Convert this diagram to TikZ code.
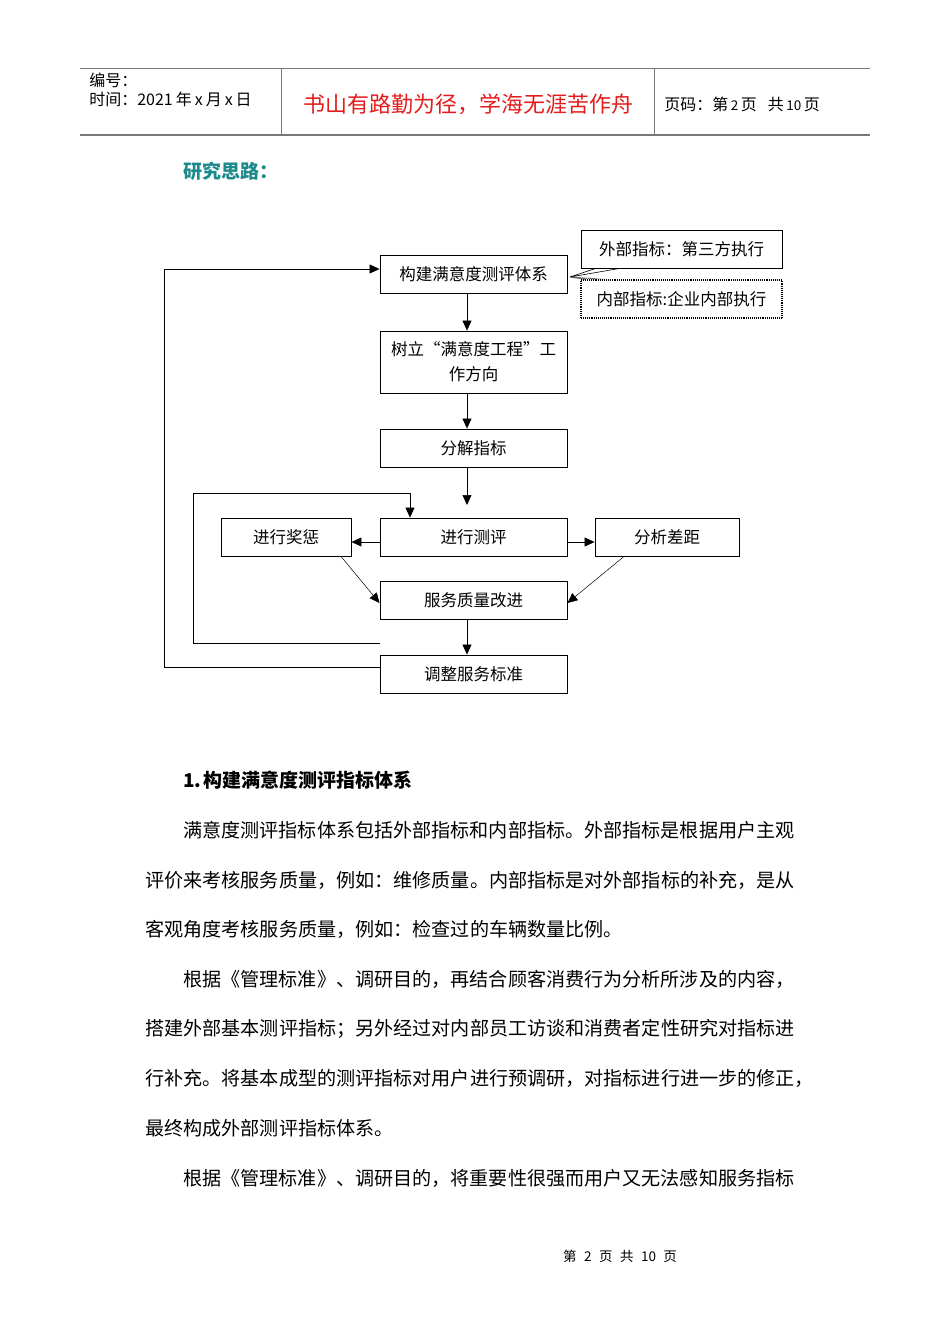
\documentclass[tikz,border=0pt]{standalone}
\usepackage{fontspec}
\setmainfont{Noto Sans CJK SC}
\usetikzlibrary{arrows.meta}

\definecolor{titleteal}{RGB}{28,138,140}
\definecolor{mottored}{RGB}{228,28,28}
\definecolor{rulegray}{RGB}{120,120,120}

\begin{document}
\begin{tikzpicture}[
            x = 1pt, y = -1pt, % page pixels, y down
            > = {Triangle[length=10pt,width=9pt]}, % arrow head style
            semithick, % line style
            box/.style = {draw, line width=0.9pt, minimum width=187pt, minimum height=38pt,
                          inner sep=0pt, align=center, font=\fontsize{16.5pt}{25pt}\selectfont},
            note/.style = {box, minimum width=201pt},
            head/.style = {anchor=west, inner sep=0pt, font=\fontsize{16pt}{18pt}\selectfont},
            body/.style = {anchor=west, inner sep=0pt, font=\fontsize{19.1pt}{22pt}\selectfont},
            thin link/.style = {->, line width=0.5pt}
        ]

	\useasboundingbox (0,0) rectangle (950,1344);

	% header table
	\draw[rulegray, line width=0.8pt] (80,68) -- (870,68);
	\draw[rulegray, line width=2pt] (80,135) -- (870,135);
	\draw[rulegray, line width=0.8pt] (281,68) -- (281,135) (654,68) -- (654,135);
	\node[head] (num) at (89,80) {编号：};
	\node[head] (date) at (89,99) {时间：2021\hspace{3pt}年\hspace{3pt}x\hspace{3pt}月\hspace{3pt}x\hspace{3pt}日};
	\node[inner sep=0pt, text=mottored, font=\fontsize{22pt}{24pt}\selectfont] (motto) at (468,104) {书山有路勤为径，学海无涯苦作舟};
	\node[head] (page) at (664,104) {页码：第\hspace{2.5pt}{\fontsize{13.5pt}{14pt}\selectfont 2}\hspace{2.5pt}页\hspace{11pt}共\hspace{2.5pt}{\fontsize{13.5pt}{14pt}\selectfont 10}\hspace{2.5pt}页};

	\node[anchor=west, inner sep=0pt, text=titleteal, font=\fontsize{19pt}{20pt}\selectfont\bfseries] (idea) at (183,171) {研究思路：};

	% flow chart
	\node[box] (build) at (473.5,274.5) {构建满意度测评体系};
	\node[box, minimum height=62pt] (aim) at (473.5,362) {树立“满意度工程”工\\作方向};
	\node[box] (split) at (473.5,448) {分解指标};
	\node[box] (eval) at (473.5,537) {进行测评};
	\node[box, minimum width=130pt] (award) at (286,537) {进行奖惩};
	\node[box, minimum width=144pt] (gap) at (667,537) {分析差距};
	\node[box] (improve) at (473.5,600) {服务质量改进};
	\node[box] (adjust) at (473.5,674) {调整服务标准};

	\node[note] (outer) at (681.5,249) {外部指标：第三方执行};
	\node[note, densely dotted, line width=1.3pt] (inner) at (681.5,299) {内部指标:企业内部执行};

	\coordinate (tip) at (570,277);
	\coordinate (splitend) at (467,505);
	\coordinate (loopstart) at (380,643);

	\draw[line width=0.6pt] ([xshift=-86pt]outer.south) -- (tip) -- ([xshift=-62pt]outer.south);
	\draw[densely dotted, line width=1pt] ([xshift=-96pt]inner.north) -- (tip) -- ([xshift=-78pt]inner.north);

	\draw[->] ([xshift=-6.5pt]build.south) -- ([xshift=-6.5pt]aim.north);
	\draw[->] ([xshift=-6.5pt]aim.south) -- ([xshift=-6.5pt]split.north);
	\draw[->] ([xshift=-6.5pt]split.south) -- (splitend);
	\draw[->] ([yshift=-5pt]eval.west) -- ([yshift=-5pt]award.east);
	\draw[->] ([yshift=-5pt]eval.east) -- ([yshift=-5pt]gap.west);
	\draw[thin link] ([xshift=55pt]award.south) -- ([yshift=-3pt]improve.west);
	\draw[thin link] ([xshift=-43pt]gap.south) -- ([yshift=-3pt]improve.east);
	\draw[->] ([xshift=-6.5pt]improve.south) -- ([xshift=-6.5pt]adjust.north);

	% feedback loops
	\draw[->] (loopstart) -- (193,643) -- (193,493) -| ([xshift=-63.5pt]eval.north);
	\draw[->] ([yshift=7pt]adjust.west) -- (164,667) |- ([yshift=5.5pt]build.west);

	% text below
	\node[anchor=west, inner sep=0pt, font=\fontsize{19pt}{20pt}\selectfont\bfseries] (sec) at (183,780) {1.\hspace{2pt}构建满意度测评指标体系};
	\node[body] (p1) at (183,830) {满意度测评指标体系包括外部指标和内部指标。外部指标是根据用户主观};
	\node[body] (p2) at (145,880) {评价来考核服务质量，例如：维修质量。内部指标是对外部指标的补充，是从};
	\node[body] (p3) at (145,929) {客观角度考核服务质量，例如：检查过的车辆数量比例。};
	\node[body] (p4) at (183,979) {根据《管理标准》、调研目的，再结合顾客消费行为分析所涉及的内容，};
	\node[body] (p5) at (145,1029) {搭建外部基本测评指标；另外经过对内部员工访谈和消费者定性研究对指标进};
	\node[body] (p6) at (145,1078) {行补充。将基本成型的测评指标对用户进行预调研，对指标进行进一步的修正，};
	\node[body] (p7) at (145,1128) {最终构成外部测评指标体系。};
	\node[body] (p8) at (183,1178) {根据《管理标准》、调研目的，将重要性很强而用户又无法感知服务指标};

	\node[inner sep=0pt, font=\fontsize{13.5pt}{15pt}\selectfont] (foot) at (620,1256) {第\hspace{7.5pt}2\hspace{7.5pt}页\hspace{7.5pt}共\hspace{7.5pt}10\hspace{7.5pt}页};

\end{tikzpicture}
\end{document}
